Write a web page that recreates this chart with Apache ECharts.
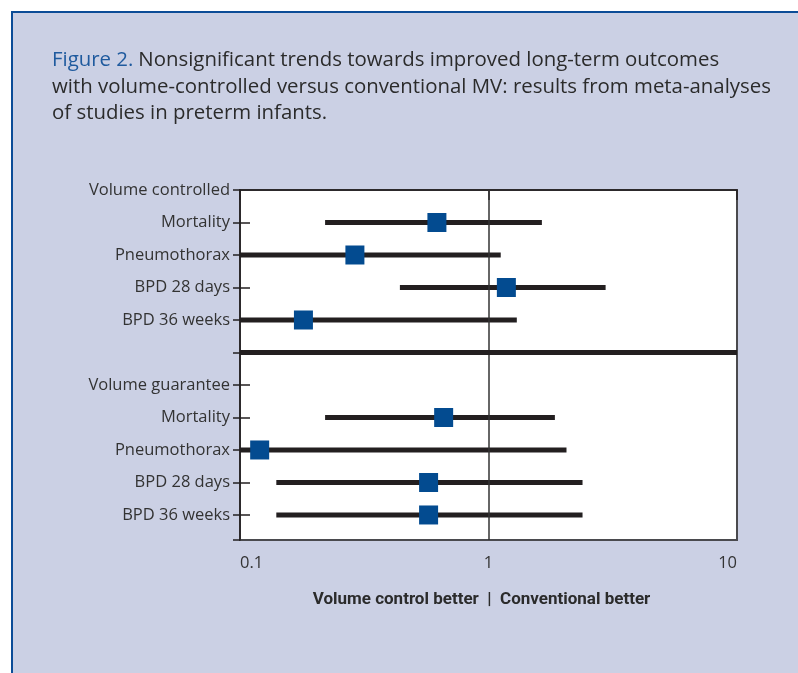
<!DOCTYPE html>
<html>
<head>
<meta charset="utf-8">
<script src="https://cdn.jsdelivr.net/npm/echarts@6/dist/echarts.min.js"></script>
<style>
  html, body { margin: 0; padding: 0; background: #ffffff; }
  #frame { position: absolute; left: 11px; top: 11px; width: 800px; height: 700px;
           background: #cbd0e4; border-top: 2px solid #0b4c97; border-left: 2px solid #0b4c97; }
  #chart { position: absolute; left: 0; top: 0; width: 798px; height: 673px; }
</style>
</head>
<body>
<div id="frame"></div>
<div id="chart"></div>
<script>
// Row labels (top to bottom), index = row position on y axis
const rowLabels = ['Volume controlled', 'Mortality', 'Pneumothorax', 'BPD 28 days', 'BPD 36 weeks', '',
                   'Volume guarantee', 'Mortality', 'Pneumothorax', 'BPD 28 days', 'BPD 36 weeks'];
// Outcome rows that carry estimates
const outcomeRows = [1, 2, 3, 4, 7, 8, 9, 10];
const pointEst   = [0.62, 0.29, 1.18, 0.18, 0.66, 0.12, 0.574, 0.574];
const lowerCI    = [0.22, 0.10, 0.44, 0.10, 0.22, 0.10, 0.14, 0.14];
const upperCI    = [1.64, 1.12, 2.96, 1.30, 1.85, 2.06, 2.39, 2.39];
const separatorRow = 5;
const xTicks = [0.1, 1, 10];
const xAxisTitle = 'Volume control better  |  Conventional better';
const titleLead = 'Figure 2.';
const titleLines = ['Nonsignificant trends towards improved long-term outcomes',
                    'with volume-controlled versus conventional MV: results from meta-analyses',
                    'of studies in preterm infants.'];

const ciData = outcomeRows.map((r, i) => [lowerCI[i], upperCI[i], r]);
const ptData = outcomeRows.map((r, i) => [pointEst[i], r]);
const labelRows = rowLabels.map((l, i) => i).filter(i => rowLabels[i] !== '');
const innerTickRows = [1, 2, 3, 4, 6, 7, 8, 9, 10];
const yMax = 10.77;

const ink = '#231f20';
const chart = echarts.init(document.getElementById('chart'), null, { renderer: 'canvas' });
chart.setOption({
  backgroundColor: 'transparent',
  animation: false,
  title: {
    left: 47, top: 42,
    text: '{a|' + titleLead + '} {b|' + titleLines[0] + '}\n{b|' + titleLines[1] + '}\n{b|' + titleLines[2] + '}',
    textStyle: {
      fontWeight: 'normal',
      rich: {
        a: { color: '#1f5a9e', fontSize: 20.4, fontWeight: 'normal', fontFamily: 'Open Sans', lineHeight: 26.5 },
        b: { color: '#2b2b2b', fontSize: 20.4, fontWeight: 'normal', fontFamily: 'Open Sans', lineHeight: 26.5 }
      }
    }
  },
  grid: { left: 240, top: 190, right: 61, bottom: 133, show: true, backgroundColor: '#ffffff',
          borderColor: '#4a4a4e', borderWidth: 2 },
  xAxis: {
    type: 'log', logBase: 10, min: 0.1, max: 10,
    axisLine: { show: true, lineStyle: { color: ink, width: 1.5 } },
    axisTick: { show: true, length: 10, lineStyle: { color: ink, width: 1.5 } },
    splitLine: { show: false },
    minorTick: { show: false },
    axisLabel: { color: '#333', fontSize: 16.5, fontFamily: 'Open Sans', margin: 15,
                 alignMinLabel: 'left', alignMaxLabel: 'right',
                 formatter: v => { const t = xTicks.find(x => Math.abs(x - v) < 1e-9); return t === undefined ? '' : String(t); } },
    name: xAxisTitle, nameLocation: 'middle', nameGap: 51,
    nameTextStyle: { color: '#2b2b2b', fontSize: 17, fontWeight: 'bold', fontFamily: 'Roboto', padding: [0, 14, 0, 0] }
  },
  yAxis: [
    {
      type: 'value', inverse: true, min: 0, max: yMax,
      axisLine: { show: true, lineStyle: { color: ink, width: 1.5 } },
      axisTick: { show: true, length: 7, customValues: [0,1,2,3,4,5,6,7,8,9,10,yMax], lineStyle: { color: ink, width: 1.5 } },
      axisLabel: { show: true, customValues: labelRows, color: '#333', fontSize: 16.5, fontFamily: 'Open Sans', margin: 10,
                   formatter: v => rowLabels[Math.round(v)] },
      splitLine: { show: false }
    },
    {
      type: 'value', inverse: true, min: 0, max: yMax, position: 'left',
      axisLine: { show: false },
      axisTick: { show: true, inside: true, length: 10, customValues: innerTickRows, lineStyle: { color: ink, width: 1.5 } },
      axisLabel: { show: false },
      splitLine: { show: false }
    }
  ],
  series: [
    {
      type: 'custom', yAxisIndex: 0, data: ciData, clip: true,
      encode: { x: [0, 1], y: 2 },
      renderItem: (params, api) => {
        const s = api.coord([api.value(0), api.value(2)]);
        const e = api.coord([api.value(1), api.value(2)]);
        return { type: 'line', shape: { x1: s[0], y1: s[1], x2: e[0], y2: e[1] },
                 style: { stroke: ink, lineWidth: 5 } };
      },
      markLine: {
        silent: true, symbol: 'none', label: { show: false },
        data: [
          { xAxis: 1, lineStyle: { color: '#333', width: 1.5, type: 'solid' } },
          { yAxis: separatorRow, lineStyle: { color: ink, width: 5, type: 'solid' } }
        ]
      },
      z: 2
    },
    {
      type: 'scatter', yAxisIndex: 0, data: ptData, symbol: 'rect', symbolSize: 19,
      itemStyle: { color: '#034b90', opacity: 1 }, z: 5
    }
  ]
});
</script>
</body>
</html>
